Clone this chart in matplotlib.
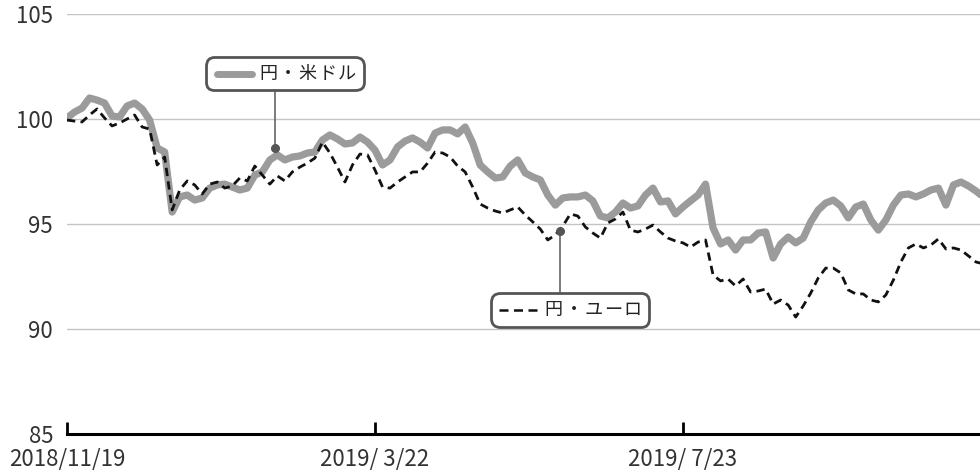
import pandas as pd
import numpy as np
import matplotlib
matplotlib.use('Agg')
import matplotlib.pyplot as plt
from matplotlib.lines import Line2D
from matplotlib.offsetbox import AnnotationBbox, HPacker, TextArea, DrawingArea

plt.rcParams['font.family'] = ['Noto Sans CJK JP', 'DejaVu Sans']

# =============================================================================
# Data: index (start = 100), sampled every 3 days from 2018/11/19
# =============================================================================
start_date = '2018-11-19'

usd_jpy = [100.05, 100.33, 100.52, 101.00, 100.90, 100.76, 100.14, 100.10, 100.62, 100.76,
           100.48, 99.95, 98.62, 98.43, 95.57, 96.29, 96.38, 96.14, 96.24, 96.71,
           96.86, 96.90, 96.76, 96.62, 96.71, 97.33, 97.48, 98.05, 98.29, 98.05,
           98.19, 98.24, 98.38, 98.43, 99.00, 99.24, 99.05, 98.81, 98.86, 99.14,
           98.90, 98.52, 97.81, 98.05, 98.67, 98.95, 99.10, 98.90, 98.62, 99.33,
           99.48, 99.48, 99.29, 99.62, 98.86, 97.81, 97.48, 97.19, 97.24, 97.76,
           98.05, 97.43, 97.24, 97.10, 96.38, 95.90, 96.24, 96.29, 96.29, 96.38,
           96.10, 95.38, 95.29, 95.57, 96.00, 95.76, 95.86, 96.38, 96.71, 96.05,
           96.10, 95.48, 95.81, 96.10, 96.38, 96.90, 94.81, 94.05, 94.24, 93.76,
           94.24, 94.24, 94.57, 94.62, 93.38, 94.05, 94.38, 94.10, 94.33, 95.10,
           95.67, 96.00, 96.14, 95.86, 95.29, 95.81, 95.95, 95.19, 94.71, 95.19,
           95.90, 96.38, 96.43, 96.29, 96.43, 96.62, 96.71, 95.90, 96.86, 97.00,
           96.81, 96.57, 96.29]

eur_jpy = [99.95, 99.90, 99.86, 100.19, 100.48, 100.05, 99.67, 99.81, 100.00, 100.19,
           99.62, 99.52, 97.81, 98.19, 95.67, 96.62, 97.05, 96.86, 96.43, 96.90,
           97.00, 96.71, 96.81, 97.19, 97.05, 97.76, 97.33, 96.90, 97.29, 97.05,
           97.48, 97.71, 97.90, 98.14, 98.90, 98.38, 97.71, 97.00, 97.81, 98.33,
           98.29, 97.57, 96.76, 96.71, 97.00, 97.24, 97.48, 97.48, 97.90, 98.43,
           98.38, 98.19, 97.76, 97.48, 96.76, 95.95, 95.76, 95.62, 95.52, 95.67,
           95.81, 95.43, 95.10, 94.76, 94.24, 94.48, 94.90, 95.48, 95.38, 94.86,
           94.57, 94.33, 95.05, 95.24, 95.57, 94.71, 94.62, 94.76, 94.95, 94.62,
           94.33, 94.19, 94.10, 93.90, 94.14, 94.24, 92.57, 92.29, 92.38, 92.05,
           92.38, 91.76, 91.81, 91.90, 91.19, 91.38, 91.14, 90.57, 91.10, 91.71,
           92.43, 92.90, 92.90, 92.67, 91.86, 91.67, 91.67, 91.38, 91.29, 91.62,
           92.33, 93.19, 93.86, 94.05, 93.86, 94.00, 94.29, 93.81, 93.86, 93.76,
           93.48, 93.19, 93.10]

dates = pd.date_range(start_date, periods=len(usd_jpy), freq='3D')

tick_dates = ['2018-11-19', '2019-03-22', '2019-07-23']
tick_labels = ['2018/11/19', '2019/ 3/22', '2019/ 7/23']
y_ticks = [85, 90, 95, 100, 105]

# label anchors (point on the line, box centre)
usd_label = '円・米ドル'
usd_point = ('2019-02-10', 98.6)
usd_box = ('2019-02-14', 102.15)
eur_label = '円・ユーロ'
eur_point = ('2019-06-04', 94.67)
eur_box = ('2019-06-08', 90.9)

GRAY = '#9b9b9b'
DARK = '#555555'

# =============================================================================
# Chart
# =============================================================================
fig = plt.figure(figsize=(9.8, 4.7), dpi=100)
ax = fig.add_axes([67 / 980, 36 / 470, 913 / 980, 420 / 470])

ax.plot(dates, usd_jpy, '-', color=GRAY, linewidth=5.2, solid_joinstyle='round',
        solid_capstyle='round', zorder=2)
ax.plot(dates, eur_jpy, '--', color='#111111', linewidth=2.0, dashes=(3.0, 1.9), zorder=2.5)

ax.set_ylim(85, 105)
ax.set_yticks(y_ticks)
ax.set_xlim(pd.Timestamp(start_date), pd.Timestamp(start_date) + pd.Timedelta(days=364.6))
ax.set_xticks(pd.to_datetime(tick_dates))
ax.set_xticklabels(tick_labels)

for s in ['top', 'right', 'left']:
    ax.spines[s].set_visible(False)
ax.spines['bottom'].set_linewidth(2.2)
ax.spines['bottom'].set_color('black')
ax.spines['bottom'].set_zorder(6)

ax.set_axisbelow(True)
ax.yaxis.grid(True, color='#c4c4c4', linewidth=1.0)
ax.tick_params(axis='y', length=0, pad=10, labelsize=16, labelcolor='#333333')
ax.tick_params(axis='x', direction='in', length=9, width=2, color='black',
               pad=10, labelsize=16, labelcolor='#333333')


def add_label(point, box, text, line_kw):
    px, py = pd.Timestamp(point[0]), point[1]
    bx, by = pd.Timestamp(box[0]), box[1]
    ax.plot([px, px], [py, by], '-', color='#666666', linewidth=1.2, zorder=3)
    ax.plot([px], [py], 'o', color=DARK, markersize=5.5, zorder=4)

    da = DrawingArea(30, 10, 0, 0)
    da.add_artist(Line2D(**line_kw))
    # letter-spaced label text
    chars = [TextArea(c, textprops=dict(fontsize=13, color='#222222')) for c in text]
    txt = HPacker(children=chars, align='baseline', pad=0, sep=1.2)
    pack = HPacker(children=[da, txt], align='center', pad=0, sep=3)
    ab = AnnotationBbox(pack, (bx, by), xycoords='data', frameon=True,
                        fontsize=10,
                        bboxprops=dict(boxstyle='round,pad=0.55,rounding_size=0.6',
                                       ec=DARK, lw=2, fc='white'),
                        zorder=5)
    ax.add_artist(ab)


add_label(usd_point, usd_box, usd_label,
          dict(xdata=[2.5, 27.5], ydata=[5, 5], color=GRAY, linewidth=5,
               solid_capstyle='round'))
add_label(eur_point, eur_box, eur_label,
          dict(xdata=[0, 27.5], ydata=[5, 5], color='#111111', linewidth=1.8,
               linestyle='--', dashes=(3.6, 2.2), dash_capstyle='butt'))

plt.savefig('out.png', dpi=100)
plt.close()
print("Saved: out.png")
